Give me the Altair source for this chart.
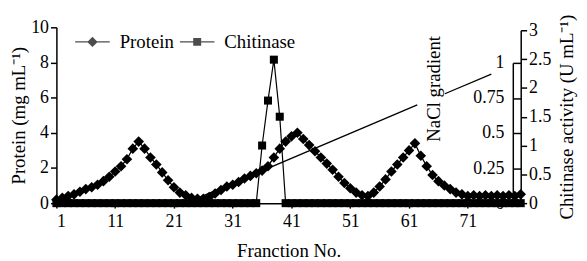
import altair as alt
import pandas as pd

FONT = "Liberation Serif"

fractions = list(range(1, 81))
protein = [
    0.2, 0.3, 0.4, 0.5, 0.65, 0.8, 0.9, 1.05, 1.25, 1.5,
    1.8, 2.1, 2.5, 3.1, 3.5, 3.1, 2.6, 2.2, 1.75, 1.3,
    0.9, 0.6, 0.45, 0.3, 0.25, 0.25, 0.35, 0.55, 0.75, 0.95,
    1.05, 1.2, 1.4, 1.55, 1.7, 1.85, 2.1, 2.6, 3.1, 3.5,
    3.8, 4.0, 3.65, 3.3, 2.95, 2.6, 2.25, 1.9, 1.5, 1.15,
    0.85, 0.6, 0.45, 0.4, 0.6, 0.95, 1.35, 1.8, 2.2, 2.6,
    3.0, 3.4, 2.7, 2.1, 1.6, 1.25, 1.0, 0.8, 0.6, 0.5,
    0.4, 0.45, 0.4, 0.45, 0.4, 0.45, 0.4, 0.45, 0.4, 0.5,
]
chitinase = [
    0, 0, 0, 0, 0, 0, 0, 0, 0, 0,
    0, 0, 0, 0, 0, 0, 0, 0, 0, 0,
    0, 0, 0, 0, 0, 0, 0, 0, 0, 0,
    0, 0, 0, 0, 0, 1.0, 1.78, 2.49, 1.5, 0,
    0, 0, 0, 0, 0, 0, 0, 0, 0, 0,
    0, 0, 0, 0, 0, 0, 0, 0, 0, 0,
    0, 0, 0, 0, 0, 0, 0, 0, 0, 0,
    0, 0, 0, 0, 0, 0, 0, 0, 0, 0,
]
nacl_fraction = [23, 62.4, 67.1, 75]
nacl_value = [0, 0.70, 0.78, 0.92]
nacl_segment = ["a", "a", "b", "b"]
nacl_label = ["NaCl gradient"]
nacl_label_fraction = [65.2]
nacl_label_value = [0.815]

x_ticks = [1, 11, 21, 31, 41, 51, 61, 71]
protein_ticks = [0, 2, 4, 6, 8, 10]
chit_ticks = [0, 0.5, 1, 1.5, 2, 2.5, 3]
nacl_ticks = [0, 0.25, 0.5, 0.75, 1]
series = ["Protein", "Chitinase"]

df = pd.DataFrame({"fraction": fractions, "protein": protein, "chitinase": chitinase})
nacl_df = pd.DataFrame({"fraction": nacl_fraction, "nacl": nacl_value, "segment": nacl_segment})
label_df = pd.DataFrame({"fraction": nacl_label_fraction, "nacl": nacl_label_value, "label": nacl_label})
legend_df = pd.DataFrame({"series": series})

x_scale = alt.Scale(domain=[1, 80], nice=False, zero=False)
x_enc = alt.X("fraction:Q", scale=x_scale,
              axis=alt.Axis(values=x_ticks, title="Franction No.", tickSize=5,
                            labelPadding=5, titlePadding=11))

protein_layer = alt.Chart(df).mark_line(
    color="black", strokeWidth=1.3,
    point=alt.OverlayMarkDef(shape="diamond", filled=True, size=115, color="black"),
).encode(
    x=x_enc,
    y=alt.Y("protein:Q", scale=alt.Scale(domain=[0, 10], nice=False),
            axis=alt.Axis(orient="left", values=protein_ticks, title="Protein (mg mL⁻¹)",
                          tickSize=6, labelPadding=2, titlePadding=2)),
)

chit_layer = alt.Chart(df).mark_line(
    color="black", strokeWidth=1.2,
    point=alt.OverlayMarkDef(shape="square", filled=True, size=66, color="black"),
).encode(
    x=alt.X("fraction:Q"),
    y=alt.Y("chitinase:Q", scale=alt.Scale(domain=[0, 3], range=[178, 3], nice=False),
            axis=alt.Axis(orient="right", values=chit_ticks, format=".1~f",
                          title="Chitinase activity (U mL⁻¹)", tickSize=6, labelPadding=2,
                          titleAngle=270, titlePadding=26)),
)

nacl_scale = alt.Scale(domain=[0, 1], range=[178, 36], nice=False)
nacl_layer = alt.Chart(nacl_df).mark_line(color="black", strokeWidth=1.3).encode(
    x=alt.X("fraction:Q"),
    y=alt.Y("nacl:Q", scale=nacl_scale,
            axis=alt.Axis(orient="right", offset=-8, values=nacl_ticks, format=".2~f",
                          tickSize=8, labelAlign="right", labelPadding=-17, title=None)),
    detail="segment:N",
)

text_layer = alt.Chart(label_df).mark_text(angle=270, font=FONT, fontSize=19, color="black").encode(
    x=alt.X("fraction:Q"),
    y=alt.Y("nacl:Q", scale=alt.Scale(domain=[0, 1], range=[178, 36], nice=False), axis=None),
    text="label:N",
)

diamond_path = "M-1,-0.04H1V0.04H-1Z M0,-0.3L0.3,0L0,0.3L-0.3,0Z"
square_path = "M-1,-0.04H1V0.04H-1Z M-0.23,-0.23H0.23V0.23H-0.23Z"

legend_layer = alt.Chart(legend_df).mark_point(filled=True, clip=True, color="black").encode(
    x=alt.value(-500),
    y=alt.value(-500),
    shape=alt.Shape("series:N",
                    scale=alt.Scale(domain=series, range=[diamond_path, square_path]),
                    legend=alt.Legend(orient="none", legendX=19, legendY=-3, direction="horizontal",
                                      title=None, symbolSize=1225, symbolStrokeWidth=0,
                                      symbolFillColor="black", symbolStrokeColor="black",
                                      labelFont=FONT, labelFontSize=19, labelColor="black",
                                      labelOffset=10, columnPadding=6, padding=0)),
)

chart = alt.layer(
    protein_layer, chit_layer, nacl_layer, text_layer, legend_layer
).resolve_scale(
    y="independent", shape="independent"
).properties(
    width=470, height=178,
    autosize=alt.AutoSizeParams(type="none"),
    padding={"left": 49, "top": 18, "right": 59, "bottom": 56},
).configure_axis(
    labelFont=FONT, titleFont=FONT, labelColor="black", titleColor="black",
    domainColor="black", tickColor="black", grid=False,
    labelFontSize=18, titleFontSize=19, titleFontWeight="normal",
    domainWidth=1.5, tickWidth=1.5,
).configure_view(stroke=None)

chart.save("out.html", embed_options={"renderer": "svg", "actions": False})
